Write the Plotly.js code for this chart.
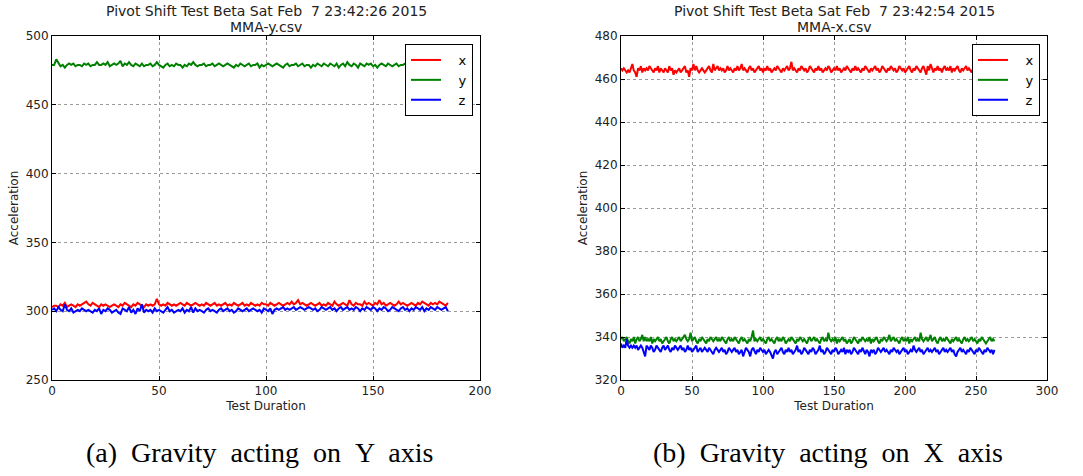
<!DOCTYPE html>
<html>
<head>
<meta charset="utf-8">
<script src="https://cdn.plot.ly/plotly-3.0.1.min.js"></script>
<style>html,body{margin:0;padding:0;background:#fff;}#chart{width:1083px;height:476px;}</style>
</head>
<body>
<div id="chart"></div>
<script>
// Panel (a): MMA-y.csv
const leftX = [
303,304,304,303,305,304,306,303,304,305,
304,303,305,304,305,306,307,305,304,306,
305,304,303,305,304,305,304,303,304,305,
304,303,305,304,306,305,304,303,305,304,
306,305,304,303,305,304,305,304,305,309,
305,304,305,304,306,305,304,305,304,305,
306,305,304,306,305,304,305,306,305,304,
305,304,306,305,304,305,306,304,305,304,
305,306,304,305,304,306,305,304,305,306,
304,305,304,306,305,304,305,304,306,305,
305,304,306,305,304,305,306,305,304,305,
306,305,307,305,306,308,305,306,305,304,
305,306,305,304,305,306,304,305,304,306,
305,304,307,305,304,305,306,305,304,308,
305,304,306,305,305,304,307,305,306,305,
304,306,305,308,305,306,304,305,306,305,
304,305,307,305,306,305,304,305,306,305,
304,306,305,307,306,305,304,306,305,306,
305,307,306,305,304,306];
const leftY = [
479,479,483,480,478,479,477,479,480,479,
480,478,479,479,478,480,479,480,478,479,
479,481,479,479,480,479,481,478,479,480,
479,480,482,478,480,479,481,479,478,480,
479,478,480,478,479,479,480,478,479,481,
479,478,477,479,480,478,479,478,480,479,
479,477,479,478,480,479,481,479,478,479,
479,480,478,479,479,480,478,479,480,479,
478,479,480,479,478,477,479,478,480,479,
478,479,480,478,479,479,480,477,479,478,
479,480,479,478,479,480,479,478,477,479,
480,478,479,479,480,478,479,480,478,479,
479,477,479,478,480,479,478,480,479,478,
480,479,478,480,477,479,480,478,481,479,
478,480,479,477,480,479,478,480,479,480,
478,479,477,479,480,479,478,480,479,478,
479,480,478,479,479,480,478,479,480,479,
479,478,480,479,478,480,479,478,480,477,
480,479,481,479,478,480];
const leftZ = [
301,302,300,303,301,300,305,301,300,302,
299,300,301,300,302,301,300,301,300,299,
301,300,302,298,301,300,302,301,299,300,
301,299,298,302,301,300,303,299,301,298,
302,300,305,299,301,300,301,299,302,300,
301,300,299,301,303,300,301,299,300,301,
300,302,299,301,300,303,299,302,300,301,
300,299,301,302,300,301,300,299,301,302,
300,301,302,300,301,299,300,302,301,300,
301,302,300,301,302,301,300,301,299,302,
301,300,302,298,301,302,301,302,303,301,
302,301,302,303,301,302,303,302,301,302,
303,302,301,302,300,301,303,302,301,302,
303,301,302,300,302,303,301,302,303,301,
302,301,303,302,300,302,301,303,302,301,
303,302,300,302,301,303,302,300,301,303,
302,301,300,302,303,301,302,300,302,301,
303,302,301,303,300,302,301,303,302,301,
303,302,301,302,303,300];

// Panel (b): MMA-x.csv
const rightX = [
465,464,465,464,463,464,463,465,467,464,
463,461,465,464,466,463,465,464,465,464,
466,465,464,463,465,464,466,463,465,464,
463,465,464,463,466,464,465,462,464,463,
464,465,463,464,465,466,463,464,461,465,
464,467,464,466,464,463,464,465,464,463,
464,465,466,464,463,467,464,465,466,464,
465,464,465,463,464,466,464,465,464,463,
465,464,466,464,465,467,464,465,464,463,
465,466,464,465,463,464,465,466,464,465,
463,465,464,466,464,465,463,464,465,464,
466,465,464,463,465,464,465,466,464,465,
468,464,465,464,463,465,464,466,465,464,
465,463,464,466,465,464,463,465,464,466,
464,465,463,464,465,464,466,465,463,464,
465,464,466,464,465,463,464,465,464,466,
465,464,463,465,464,466,464,465,464,463,
465,464,466,465,464,463,465,464,465,466,
464,465,463,464,466,465,464,463,465,464,
466,465,464,465,463,464,466,465,464,465,
463,464,465,466,464,463,465,464,466,465,
464,463,465,466,464,462,466,464,467,465,
463,465,464,466,464,465,463,465,466,464,
465,464,466,463,465,464,465,466,464,463,
465,464,465,466,464,465,464,463,465,464,
466,465,464,465,463,464,465,464,465,463,
464,465,466,464];
const rightY = [
339,340,338,339,340,338,337,339,338,340,
337,339,340,338,339,341,338,340,338,339,
338,340,337,339,338,339,340,338,339,337,
338,339,340,338,337,339,340,338,339,338,
339,340,338,339,340,341,339,338,339,342,
338,339,340,338,337,339,338,340,339,338,
337,339,338,340,339,338,339,340,338,339,
338,340,339,338,337,339,340,338,339,338,
340,339,338,337,339,340,338,339,338,337,
339,338,340,343,338,339,338,339,340,338,
339,338,337,339,340,338,339,338,337,339,
340,338,339,338,340,339,337,338,339,338,
340,339,338,337,339,338,340,339,338,339,
338,337,339,340,338,339,340,338,339,338,
337,339,340,338,339,338,342,339,338,339,
338,340,337,339,338,339,340,338,339,337,
338,339,337,338,340,339,338,337,339,338,
340,339,338,339,338,340,337,339,338,339,
340,338,337,339,338,340,339,338,339,341,
338,339,340,338,339,338,337,339,340,338,
339,338,340,337,339,338,339,340,338,339,
338,342,339,338,339,340,338,339,341,338,
339,340,338,337,339,340,338,339,338,340,
339,338,337,339,338,339,340,338,339,338,
337,339,340,338,339,338,339,340,338,339,
338,337,339,338,340,339,338,337,338,339,
340,338,339,338];
const rightZ = [
337,335,336,335,339,336,335,336,335,336,
335,336,334,335,336,335,333,331,336,335,
334,336,335,333,334,336,335,334,333,335,
336,334,335,336,334,333,335,334,336,335,
334,335,336,334,335,333,334,336,334,335,
333,334,335,336,333,334,335,333,334,335,
334,333,335,334,333,332,334,335,334,333,
334,335,333,334,332,333,335,334,333,334,
335,333,334,332,333,334,331,333,335,334,
333,331,334,335,333,332,334,333,335,334,
333,334,332,333,334,333,331,330,333,334,
332,333,334,335,333,332,334,333,335,333,
334,332,333,334,336,333,334,332,333,335,
334,333,332,334,333,335,334,332,333,334,
336,333,334,332,333,335,334,333,332,334,
333,335,334,332,333,334,333,335,332,334,
333,334,332,333,335,334,333,332,334,333,
335,333,332,334,333,331,334,333,334,332,
333,335,334,333,334,335,333,334,333,332,
334,333,335,334,333,334,332,333,334,335,
333,334,332,333,334,333,336,334,333,334,
335,333,334,332,333,334,335,333,334,333,
334,335,333,334,332,333,334,335,333,334,
333,334,335,333,334,332,331,333,334,335,
333,334,333,332,334,333,335,334,333,332,
334,333,335,334,333,332,334,333,335,334,
333,334,332,334];

const seriesNames = ['x', 'y', 'z'];
const seriesColors = ['#ff0000', '#008000', '#0000ff'];
const titleLine1 = ['Pivot Shift Test Beta Sat Feb\u00a0\u00a07 23:42:26 2015', 'Pivot Shift Test Beta Sat Feb\u00a0\u00a07 23:42:54 2015'];
const titleLine2 = ['MMA-y.csv', 'MMA-x.csv'];
const captions = ['(a) Gravity acting on Y axis', '(b) Gravity acting on X axis'];
const xTitle = 'Test Duration';
const yTitle = 'Acceleration';

const leftData = [leftX, leftY, leftZ];
const rightData = [rightX, rightY, rightZ];

const pad = '\u00a0\u00a0\u00a0';
const traces = [];
leftData.forEach((arr, i) => {
  traces.push({
    y: arr, type: 'scatter', mode: 'lines', name: pad + seriesNames[i],
    line: {color: seriesColors[i], width: 2}, xaxis: 'x', yaxis: 'y', legend: 'legend'
  });
});
rightData.forEach((arr, i) => {
  traces.push({
    y: arr, type: 'scatter', mode: 'lines', name: pad + seriesNames[i],
    line: {color: seriesColors[i], width: 2}, xaxis: 'x2', yaxis: 'y2', legend: 'legend2'
  });
});

const W = 1083, H = 476;
const yDom = [(H - 380) / H, (H - 36) / H];
const d1 = [52 / W, 480 / W];
const d2 = [621 / W, 1047 / W];

const axFont = {family: 'DejaVu Sans', size: 12, color: '#222'};
const baseAxis = {
  showline: true, linecolor: '#000', linewidth: 1, mirror: 'allticks',
  ticks: 'inside', ticklen: 4, tickcolor: '#000',
  showgrid: true, gridcolor: '#9a9a9a', griddash: 'dot', gridwidth: 1,
  zeroline: false, tickfont: axFont
};

function ax(extra) { return Object.assign({}, JSON.parse(JSON.stringify(baseAxis)), extra); }

const legendBase = {
  bordercolor: '#000', borderwidth: 1, bgcolor: '#fff',
  font: {family: 'DejaVu Sans', size: 13, color: '#000'},
  xanchor: 'right', yanchor: 'top', tracegroupgap: 0, itemwidth: 30
};

function spaced(s) { return s.split(' ').join(' \u00a0'); }

const annotations = [];
[d1, d2].forEach((d, i) => {
  const cx = (d[0] + d[1]) / 2;
  annotations.push({xref: 'paper', yref: 'paper', x: cx, y: (H - 11) / H, text: titleLine1[i], showarrow: false,
    font: {family: 'DejaVu Sans', size: 14, color: '#222'}, xanchor: 'center', yanchor: 'middle'});
  annotations.push({xref: 'paper', yref: 'paper', x: cx, y: (H - 27) / H, text: titleLine2[i], showarrow: false,
    font: {family: 'DejaVu Sans', size: 14, color: '#222'}, xanchor: 'center', yanchor: 'middle'});
});
annotations.push({xref: 'paper', yref: 'paper', x: 259 / W, y: (H - 452) / H, text: spaced(captions[0]), showarrow: false,
  font: {family: 'Liberation Serif', size: 28, color: '#000'}, xanchor: 'center', yanchor: 'middle'});
annotations.push({xref: 'paper', yref: 'paper', x: 828 / W, y: (H - 452) / H, text: spaced(captions[1]), showarrow: false,
  font: {family: 'Liberation Serif', size: 28, color: '#000'}, xanchor: 'center', yanchor: 'middle'});

const layout = {
  width: W, height: H,
  margin: {l: 0, r: 0, t: 0, b: 0},
  paper_bgcolor: '#fff', plot_bgcolor: '#fff',
  showlegend: true,
  xaxis: ax({domain: d1, range: [0, 200], tickvals: [0, 50, 100, 150, 200], anchor: 'y',
    title: {text: xTitle, font: axFont, standoff: 4}}),
  yaxis: ax({domain: yDom, range: [250, 500], tickvals: [250, 300, 350, 400, 450, 500], anchor: 'x',
    title: {text: yTitle, font: axFont, standoff: 4}}),
  xaxis2: ax({domain: d2, range: [0, 300], tickvals: [0, 50, 100, 150, 200, 250, 300], anchor: 'y2',
    title: {text: xTitle, font: axFont, standoff: 4}}),
  yaxis2: ax({domain: yDom, range: [320, 480], tickvals: [320, 340, 360, 380, 400, 420, 440, 460, 480], anchor: 'x2',
    title: {text: yTitle, font: axFont, standoff: 4}}),
  legend: Object.assign({}, legendBase, {x: 473 / W, y: (H - 44) / H}),
  legend2: Object.assign({}, legendBase, {x: 1040 / W, y: (H - 44) / H}),
  annotations: annotations
};

Plotly.newPlot('chart', traces, layout, {displayModeBar: false, staticPlot: true});
</script>
</body>
</html>
